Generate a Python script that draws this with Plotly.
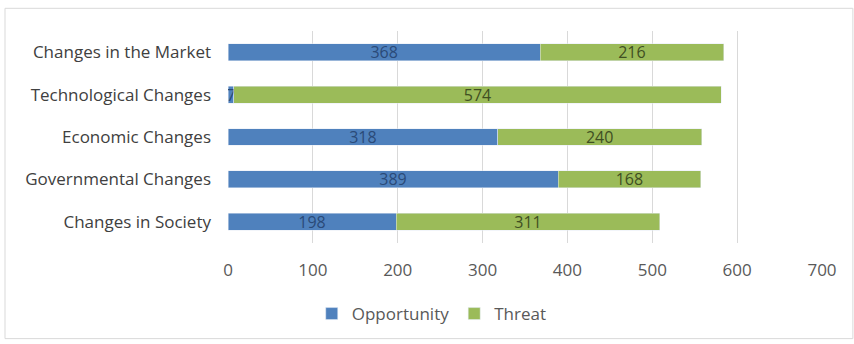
import plotly.graph_objects as go

categories = ["Changes in the Market", "Technological Changes", "Economic Changes",
              "Governmental Changes", "Changes in Society"]
opportunity = [368, 7, 318, 389, 198]
threat = [216, 574, 240, 168, 311]
x_ticks = [0, 100, 200, 300, 400, 500, 600, 700]

FONT = "Open Sans, Liberation Sans, sans-serif"
FS = 17

fig = go.Figure()
fig.add_trace(go.Bar(
    y=categories, x=opportunity, name="Opportunity", orientation="h",
    marker=dict(color="#4f81bd"), text=opportunity, textposition="inside",
    insidetextanchor="middle", constraintext="none",
    textfont=dict(color="#2a4a78", size=16, family=FONT),
))
fig.add_trace(go.Bar(
    y=categories, x=threat, name="Threat", orientation="h",
    marker=dict(color="#9bbb59"), text=threat, textposition="inside",
    insidetextanchor="middle", constraintext="none",
    textfont=dict(color="#3f4f22", size=16, family=FONT),
))

fig.update_layout(
    barmode="stack", bargap=0.6,
    width=854, height=344,
    margin=dict(l=228, r=32, t=31, b=98),
    paper_bgcolor="white", plot_bgcolor="white",
    font=dict(family=FONT, size=FS, color="#595959"),
    showlegend=True,
    legend=dict(orientation="h", x=0.343, xanchor="center", y=-0.335, yanchor="middle",
                font=dict(size=FS, color="#595959"), traceorder="normal"),
    xaxis=dict(range=[0, 700], tickvals=x_ticks, showgrid=True, gridcolor="#d9d9d9",
               zeroline=False, showline=False, ticklabelstandoff=15,
               tickfont=dict(size=FS, color="#595959")),
    yaxis=dict(autorange="reversed", showgrid=False, ticklabelstandoff=16,
               tickfont=dict(size=FS, color="#404040")),
    shapes=[dict(type="rect", xref="paper", yref="paper",
                 x0=-0.3754, x1=1.052, y0=-0.451, y1=1.107,
                 line=dict(color="#d9d9d9", width=1), fillcolor="rgba(0,0,0,0)", layer="below")],
)

fig.write_html("out.html")
